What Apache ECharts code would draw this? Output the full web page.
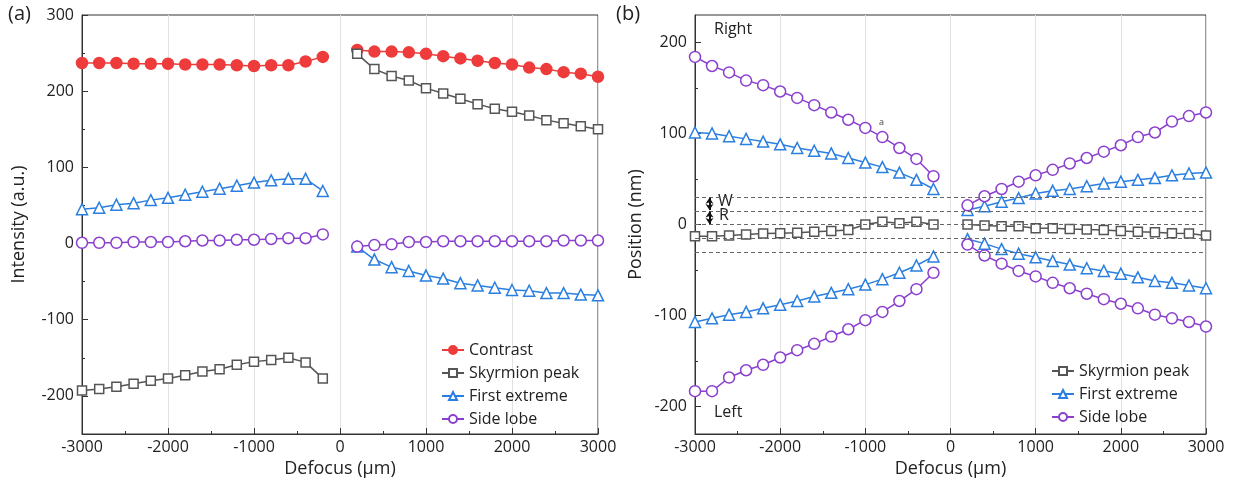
<!DOCTYPE html>
<html>
<head>
<meta charset="utf-8">
<script src="https://cdn.jsdelivr.net/npm/echarts@6/dist/echarts.min.js"></script>
<style>html,body{margin:0;padding:0;background:#fff}#c{width:1234px;height:481px}</style>
</head>
<body>
<div id="c"></div>
<script>
// ---- data ----
const xLeft = [-3000,-2800,-2600,-2400,-2200,-2000,-1800,-1600,-1400,-1200,-1000,-800,-600,-400,-200];
const xRight = [200,400,600,800,1000,1200,1400,1600,1800,2000,2200,2400,2600,2800,3000];

// panel (a) Intensity
const aContrastL = [237,237,237,236,236,236,235,235,235,234,233,234,234,239,245];
const aContrastR = [254,252,252,251,249,246,243,240,237,235,231,229,225,223,219];
const aPeakL = [-193,-191,-188,-184,-180,-177,-173,-168,-165,-159,-155,-153,-150,-156,-177];
const aPeakR = [249,229,220,214,204,197,190,183,177,173,168,162,158,154,150];
const aFirstL = [45,47,51,53,57,60,64,68,72,76,80,83,85,85,69];
const aFirstR = [-4,-21,-31,-36,-42,-46,-52,-55,-58,-61,-62,-65,-65,-67,-68];
const aLobeL = [1,1,1,2,2,2,3,4,4,5,5,6,7,7,12];
const aLobeR = [-4,-2,-1,2,2,3,3,3,3,3,3,3,4,4,4];

// panel (b) Position
const bPeakL = [-13,-13,-12,-11,-10,-9.5,-9,-8,-7,-6,0,3,1.5,3,0];
const bPeakR = [0,-1,-2,-2,-4,-4,-5,-5.5,-6,-7,-8,-8.5,-9.5,-10,-12];
const bFirstUpL = [101,100,97,94,91,88,84,81,78,73,68,63,57,49,39];
const bFirstUpR = [16,20,25,29,34,37,39,42,45,47,49,51,54,56,57];
const bFirstLoL = [-107,-103,-99,-96,-92,-88,-84,-79,-75,-71,-66,-60,-53,-45,-35];
const bFirstLoR = [-16,-21,-27,-32,-36,-40,-44,-48,-51,-54,-58,-62,-64,-67,-70];
const bLobeUpL = [184,174,167,158,153,146,139,131,123,115,106,96,84,72,53];
const bLobeUpR = [21,31,39,47,54,60,67,73,80,87,96,101,113,119,123];
const bLobeLoL = [-183,-183,-168,-160,-154,-146,-138,-131,-123,-115,-105,-96,-84,-71,-53];
const bLobeLoR = [-22,-34,-43,-51,-57,-64,-70,-76,-82,-87,-92,-99,-103,-107,-112];

const refLines = [30,15,0,-15,-30];
const aYTicks = [-200,-100,0,100,200,300];
const aYMinor = [-250,-150,-50,50,150,250];
const bYTicks = [-200,-100,0,100,200];
const bYMinor = [-150,-50,50,150];

// ---- helpers ----
function pairs(xs, ys){ return xs.map((x,i)=>[x, ys[i]]); }
function joined(yl, yr){ return pairs(xLeft, yl).concat([[0,'-']]).concat(pairs(xRight, yr)); }

const FONT = 'Open Sans';
const C = {red:'#EE3B3B', gray:'#555555', blue:'#2A7FE0', purple:'#8B3FCF'};
const plain = v => String(v);

function ser(name, data, color, symbol, size, xi, yi, filled){
  return {
    name, type:'line', data, xAxisIndex:xi, yAxisIndex:yi,
    symbol, symbolSize:size, showSymbol:true, connectNulls:false,
    lineStyle:{color, width:1.5},
    itemStyle:{color: filled ? color : '#ffffff', borderColor:color, borderWidth:1.5},
    emphasis:{disabled:true}, animation:false, z:3
  };
}

function xAx(gi){
  return {
    type:'value', gridIndex:gi, min:-3000, max:3000, interval:1000,
    name:'Defocus (μm)', nameLocation:'middle', nameGap:22,
    nameTextStyle:{fontFamily:FONT, fontSize:18, color:'#222'},
    axisLine:{show:true, onZero:false, lineStyle:{color:'#333', width:1}},
    axisTick:{show:true, inside:true, length:6, lineStyle:{color:'#333'}},
    minorTick:{show:true, splitNumber:2, length:3, lineStyle:{color:'#333'}},
    axisLabel:{fontFamily:FONT, fontSize:16, color:'#222', margin:5, formatter:plain},
    splitLine:{show:true, lineStyle:{color:'#e2e2e2', width:1}}
  };
}
function yMain(gi, min, max, ticks, name, gap){
  return {
    type:'value', gridIndex:gi, min, max, position:'left',
    name, nameLocation:'middle', nameGap:gap,
    nameTextStyle:{fontFamily:FONT, fontSize:18, color:'#222'},
    axisLine:{show:true, onZero:false, lineStyle:{color:'#333', width:1}},
    axisTick:{show:true, inside:true, length:6, customValues:ticks, lineStyle:{color:'#333'}},
    axisLabel:{fontFamily:FONT, fontSize:16, color:'#222', margin:8, customValues:ticks, formatter:plain},
    splitLine:{show:false}
  };
}
function yMinor(gi, min, max, ticks){
  return {
    type:'value', gridIndex:gi, min, max, position:'left', offset:0,
    axisLine:{show:false, onZero:false},
    axisTick:{show:true, inside:true, length:3, customValues:ticks, lineStyle:{color:'#333'}},
    axisLabel:{show:false, customValues:ticks},
    splitLine:{show:false}
  };
}

const peakB = ser('Skyrmion peak', joined(bPeakL, bPeakR), C.gray, 'rect', 9, 1, 2, false);
peakB.markLine = {
  silent:true, symbol:['none','none'], animation:false,
  lineStyle:{type:[4,3], color:'#666', width:1.2},
  label:{show:false},
  data: refLines.map(v=>({yAxis:v}))
    .concat([
      [{coord:[-2830,29.5], symbol:'arrow'},{coord:[-2830,15.8], symbol:'arrow'}],
      [{coord:[-2830,14.2], symbol:'arrow'},{coord:[-2830,0.5], symbol:'arrow'}]
    ].map(p=>p.map(q=>Object.assign(q,{symbolSize:[6,6], lineStyle:{type:'solid', color:'#111', width:2}}))))
};

const legendBase = {
  orient:'vertical', itemGap:7, itemWidth:22, itemHeight:10,
  textStyle:{fontFamily:FONT, fontSize:16, color:'#222'}, selectedMode:false
};

const gridBase = {top:15, bottom:47, show:true, borderColor:'#333', borderWidth:1,
  containLabel:false, outerBoundsMode:'none'};

const option = {
  backgroundColor:'#fff',
  animation:false,
  grid:[
    Object.assign({left:82, right:636}, gridBase),
    Object.assign({left:695, right:28}, gridBase)
  ],
  xAxis:[xAx(0), xAx(1)],
  yAxis:[
    yMain(0, -250, 300, aYTicks, 'Intensity (a.u.)', 54),
    yMinor(0, -250, 300, aYMinor),
    yMain(1, -230, 230, bYTicks, 'Position (nm)', 50),
    yMinor(1, -230, 230, bYMinor)
  ],
  legend:[
    Object.assign({left:436, top:337,
      data:['Contrast','Skyrmion peak','First extreme','Side lobe'].map(n=>({name:n}))}, legendBase),
    Object.assign({left:1046, top:358,
      data:['Skyrmion peak','First extreme ','Side lobe '].map(n=>({name:n}))}, legendBase)
  ],
  graphic:[
    {type:'text', left:8, top:4, style:{text:'(a)', font:'20px "Open Sans"', fill:'#222'}},
    {type:'text', left:616, top:4, style:{text:'(b)', font:'20px "Open Sans"', fill:'#222'}},
    {type:'text', left:714, top:21, style:{text:'Right', font:'16px "Open Sans"', fill:'#222'}},
    {type:'text', left:714, top:404, style:{text:'Left', font:'16px "Open Sans"', fill:'#222'}},
    {type:'text', left:879, top:118, style:{text:'a', font:'9px "Open Sans"', fill:'#444'}},
    {type:'text', left:718, top:193, style:{text:'W', font:'16px "Open Sans"', fill:'#222'}},
    {type:'text', left:719, top:207, style:{text:'R', font:'16px "Open Sans"', fill:'#222'}}
  ],
  series:[
    ser('Contrast', joined(aContrastL, aContrastR), C.red, 'circle', 11, 0, 0, true),
    ser('Skyrmion peak', joined(aPeakL, aPeakR), C.gray, 'rect', 9, 0, 0, false),
    ser('First extreme', joined(aFirstL, aFirstR), C.blue, 'triangle', 11, 0, 0, false),
    ser('Side lobe', joined(aLobeL, aLobeR), C.purple, 'circle', 11, 0, 0, false),
    peakB,
    ser('First extreme ', joined(bFirstUpL, bFirstUpR), C.blue, 'triangle', 11, 1, 2, false),
    ser('First extreme ', joined(bFirstLoL, bFirstLoR), C.blue, 'triangle', 11, 1, 2, false),
    ser('Side lobe ', joined(bLobeUpL, bLobeUpR), C.purple, 'circle', 11, 1, 2, false),
    ser('Side lobe ', joined(bLobeLoL, bLobeLoR), C.purple, 'circle', 11, 1, 2, false)
  ]
};

const chart = echarts.init(document.getElementById('c'), null, {renderer:'canvas'});
chart.setOption(option);
</script>
</body>
</html>
